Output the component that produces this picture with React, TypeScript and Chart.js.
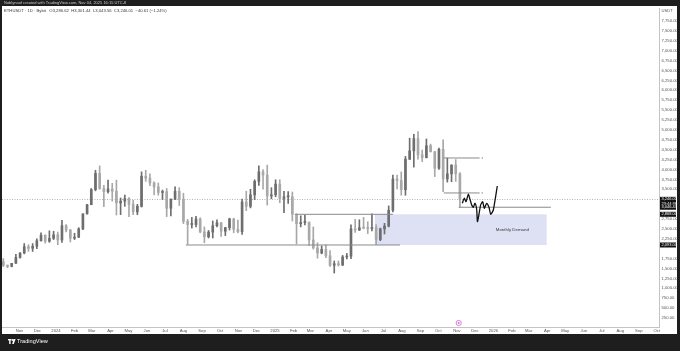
import React, { useEffect, useRef } from 'react';
import { Chart, registerables } from 'chart.js';

Chart.register(...registerables);

// ---------- data (weekly OHLC, ETH/USDT) ----------
const firstWeek = '2023-10-02';
const opens = [
  1671, 1580, 1555, 1630, 1780, 1890, 2050, 2010, 2060, 2200, 2340, 2190, 2260,
  2350, 2220, 2580, 2470, 2265, 2290, 2500, 2880, 3110, 3490, 3900, 3520, 3440,
  3505, 3450, 3155, 3200, 3265, 3115, 2930, 3070, 3830, 3780, 3660, 3560, 3420,
  3440, 3020, 3250, 3450, 3250, 2690, 2610, 2610, 2750, 2425, 2300, 2420, 2580,
  2655, 2440, 2530, 2750, 2490, 2430, 3180, 3070, 3360, 3700, 3940, 3860, 3330,
  3360, 3630, 3270, 3310, 3310, 2870, 2630, 2660, 2660, 2220, 2020, 1890, 1980,
  1820, 1580, 1620, 1590, 1790, 1810, 2500, 2470, 2530, 2520, 2510, 2530, 2230,
  2500, 2570, 2970, 3760, 3720, 3490, 4260, 4470, 4780, 4370, 4300, 4600, 4450,
  4030, 4510, 3760, 3890, 4110, 3890,
];
const highs = [
  1750, 1590, 1630, 1860, 1900, 2130, 2100, 2130, 2250, 2400, 2350, 2450, 2440,
  2420, 2715, 2610, 2490, 2390, 2530, 2880, 3120, 3520, 3980, 4090, 3600, 3730,
  3650, 3730, 3280, 3355, 3290, 3220, 3120, 3940, 3980, 3890, 3690, 3660, 3480,
  3520, 3260, 3560, 3540, 3400, 2740, 2790, 2820, 2780, 2550, 2460, 2700, 2730,
  2660, 2540, 2770, 2770, 2720, 3250, 3450, 3500, 3740, 4090, 4000, 4110, 3540,
  3740, 3740, 3450, 3440, 3430, 2880, 2830, 2850, 2680, 2550, 2150, 2070, 2100,
  1950, 1690, 1690, 1830, 1880, 2600, 2740, 2730, 2790, 2680, 2880, 2610, 2520,
  2640, 3080, 3860, 3860, 3940, 4330, 4790, 4890, 4960, 4490, 4770, 4640, 4460,
  4540, 4750, 4290, 4120, 4250, 3920,
];
const lows = [
  1550, 1520, 1540, 1630, 1760, 1870, 1930, 1930, 2000, 2190, 2140, 2160, 2230,
  2100, 2160, 2420, 2170, 2230, 2280, 2480, 2870, 3110, 3460, 3500, 3060, 3400,
  3200, 2850, 2860, 3070, 2810, 2860, 2860, 3050, 3700, 3590, 3360, 3350, 3240,
  2810, 2830, 3240, 3090, 2630, 2110, 2520, 2550, 2400, 2150, 2270, 2270, 2550,
  2310, 2330, 2470, 2400, 2400, 2360, 2960, 3030, 3240, 3600, 3500, 3100, 3260,
  3310, 3160, 2910, 3140, 2700, 2120, 2550, 2600, 2080, 1990, 1760, 1870, 1770,
  1550, 1385, 1560, 1570, 1740, 1750, 2410, 2460, 2500, 2380, 2450, 2110, 2200,
  2370, 2550, 2930, 3510, 3350, 3350, 4250, 4060, 4260, 4200, 4290, 4440, 3820,
  4000, 3440, 3680, 3690, 3700, 3050,
];
const closes = [
  1580, 1555, 1630, 1780, 1890, 2050, 2010, 2060, 2200, 2340, 2190, 2260, 2350,
  2220, 2580, 2470, 2265, 2290, 2500, 2880, 3110, 3490, 3900, 3520, 3440, 3505,
  3450, 3155, 3200, 3265, 3115, 2930, 3070, 3830, 3780, 3660, 3560, 3420, 3440,
  3020, 3250, 3450, 3250, 2690, 2610, 2610, 2750, 2425, 2300, 2420, 2580, 2655,
  2440, 2530, 2750, 2490, 2430, 3180, 3070, 3360, 3700, 3940, 3860, 3330, 3360,
  3630, 3270, 3310, 3310, 2870, 2630, 2660, 2660, 2220, 2020, 1890, 1980, 1820,
  1580, 1620, 1590, 1790, 1810, 2500, 2470, 2530, 2520, 2510, 2530, 2230, 2500,
  2570, 2970, 3760, 3720, 3490, 4260, 4470, 4780, 4370, 4300, 4600, 4450, 4030,
  4510, 3760, 3890, 4110, 3890, 3246.01,
];

// axis labels
const firstMonth = '2023-11-01';
const monthLabels = [
  'Nov', 'Dec', '2024', 'Feb', 'Mar', 'Apr', 'May', 'Jun', 'Jul', 'Aug', 'Sep', 'Oct',
  'Nov', 'Dec', '2025', 'Feb', 'Mar', 'Apr', 'May', 'Jun', 'Jul', 'Aug', 'Sep', 'Oct',
  'Nov', 'Dec', '2026', 'Feb', 'Mar', 'Apr', 'May', 'Jun', 'Jul', 'Aug', 'Sep', 'Oct',
];
const priceTicks = [
  250, 500, 750, 1000, 1250, 1500, 1750, 2250, 2500, 2750, 3500, 3750, 4000, 4250,
  4500, 4750, 5000, 5250, 5500, 5750, 6000, 6250, 6500, 6750, 7000, 7250, 7500, 7750,
];
const unitTick = 8000;
const unitLabel = 'USDT';

// drawings
const supportLevel = 2093;
const supportFrom = '2024-08-05';
const supportTo = '2025-07-29';
const demandTop = 2868;
const demandTopFrom = '2025-02-03';
const demandTopTo = '2025-07-17';
const demandBoxFrom = '2025-06-17';
const demandBoxTo = '2026-03-31';
const demandLabel = 'Monthly Demand';
const upperLevel = 4290;
const midLevel = 3407;
const levelsFrom = '2025-10-10';
const levelsTo = '2025-12-09';
const nearLevel = 3046.43;
const nearFrom = '2025-11-04';
const nearTo = '2026-04-07';
const lastPrice = 3246.01;
const lastDate = '2025-11-04';
const pathOffsets = [6.0, 9.3, 12.2, 16.0, 18.8, 21.7, 24.4, 27.2, 30.0, 31.4, 36.7, 40.0, 42.7, 46.7, 50.6, 53.4, 57.8, 64.5];
const pathPrices = [3146, 3273, 3187, 3374, 3247, 3104, 3045, 3146, 2995, 2682, 3104, 3187, 3020, 3146, 3045, 2869, 2977, 3583];

const headerText = 'Noblynoof created with TradingView.com, Nov 04, 2025 16:15 UTC-8';
const legendText = 'ETHUSDT · 1D · Bybit   O3,286.62  H3,301.44  L3,043.56  C3,246.01  −40.61 (−1.24%)';
const countdown = '23:44:36';

// ---------- helpers ----------
const DAY0 = Date.UTC(2024, 0, 1);
const dayOf = (s: string) => (Date.parse(s + 'T00:00:00Z') - DAY0) / 86400000;
const fmt = (v: number) => v.toLocaleString('en-US', { minimumFractionDigits: 2, maximumFractionDigits: 2 });
const FONT = '"Liberation Sans", Arial, sans-serif';

export default function App() {
  const ref = useRef<HTMLCanvasElement | null>(null);

  useEffect(() => {
    document.body.style.margin = '0';
    const canvas = ref.current;
    if (!canvas) return;

    const w0 = dayOf(firstWeek);
    const xs = opens.map((_, i) => w0 + 7 * i + 3);
    const colors = opens.map((o, i) => (closes[i] >= o ? '#6e6e6e' : '#a8a8a8'));

    const [fy, fm] = firstMonth.split('-').map(Number);
    const monthVals = monthLabels.map((_, i) => Math.round((Date.UTC(fy, fm - 1 + i, 1) - DAY0) / 86400000));

    const seg = (from: string, to: string, v: number, color = '#8a8a8a', width = 1) => ({
      type: 'line' as const,
      data: [{ x: dayOf(from), y: v }, { x: dayOf(to), y: v }],
      borderColor: color,
      borderWidth: width,
      pointRadius: 0,
      order: 1,
    });

    const lastDay = dayOf(lastDate);

    const framePlugin = {
      id: 'frame',
      beforeDraw(chart: any) {
        const { ctx } = chart;
        ctx.save();
        ctx.fillStyle = '#1e1e1e';
        ctx.fillRect(0, 0, 680, 351);
        ctx.fillStyle = '#ffffff';
        ctx.fillRect(2, 6, 675, 328);
        ctx.fillStyle = '#c8c8c8';
        ctx.font = `4px ${FONT}`;
        ctx.textBaseline = 'middle';
        ctx.fillText(headerText, 4, 3);
        ctx.fillStyle = '#3a3a3a';
        ctx.font = `4.2px ${FONT}`;
        ctx.fillText(legendText, 4, 11);
        // footer logo
        ctx.fillStyle = '#ffffff';
        ctx.fillRect(8, 339, 3.5, 1.4);
        ctx.fillRect(9.2, 339, 1.4, 5);
        ctx.beginPath();
        ctx.arc(12.6, 340, 0.9, 0, Math.PI * 2);
        ctx.fill();
        ctx.beginPath();
        ctx.moveTo(13.5, 339);
        ctx.lineTo(15.6, 339);
        ctx.lineTo(13.8, 344);
        ctx.lineTo(12.2, 344);
        ctx.closePath();
        ctx.fill();
        ctx.font = `5.6px ${FONT}`;
        ctx.fillText('TradingView', 17, 341.8);
        ctx.restore();
      },
      beforeDatasetsDraw(chart: any) {
        const { ctx, chartArea } = chart;
        const x = chart.scales.x;
        const y = chart.scales.y;
        ctx.save();
        // demand box
        const x1 = x.getPixelForValue(dayOf(demandBoxFrom));
        const x2 = x.getPixelForValue(dayOf(demandBoxTo));
        const y1 = y.getPixelForValue(demandTop);
        const y2 = y.getPixelForValue(supportLevel);
        ctx.fillStyle = 'rgba(200, 207, 236, 0.62)';
        ctx.fillRect(x1, y1, x2 - x1, y2 - y1);
        ctx.fillStyle = '#3c3c3c';
        ctx.font = `4.4px ${FONT}`;
        ctx.textAlign = 'center';
        ctx.textBaseline = 'middle';
        ctx.fillText(demandLabel, x1 + (x2 - x1) * 0.8, (y1 + y2) / 2);
        // last price dotted line
        const py = Math.round(y.getPixelForValue(lastPrice)) + 0.5;
        ctx.strokeStyle = '#b4b4b4';
        ctx.lineWidth = 1;
        ctx.setLineDash([1, 1.5]);
        ctx.beginPath();
        ctx.moveTo(chartArea.left, py);
        ctx.lineTo(chartArea.right, py);
        ctx.stroke();
        ctx.restore();
      },
      afterDraw(chart: any) {
        const { ctx, chartArea } = chart;
        const x = chart.scales.x;
        const y = chart.scales.y;
        ctx.save();
        // small marks at end of level lines
        ctx.fillStyle = '#8a8a8a';
        const ex = x.getPixelForValue(dayOf(levelsTo)) + 2;
        [upperLevel, midLevel].forEach((v) => {
          ctx.fillRect(ex, y.getPixelForValue(v) - 0.6, 1.2, 1.2);
        });
        // axis badges
        const bx = chartArea.right + 1;
        const bw = 16;
        const badge = (v: number, lines: string[]) => {
          const cy = y.getPixelForValue(v);
          const h = 4.4 * lines.length + 0.6;
          ctx.fillStyle = '#131313';
          ctx.fillRect(bx, cy - 2.5, bw, h);
          ctx.fillStyle = '#ffffff';
          ctx.font = `4px ${FONT}`;
          ctx.textAlign = 'left';
          ctx.textBaseline = 'middle';
          lines.forEach((t, i) => ctx.fillText(t, bx + 1.5, cy + i * 4.4));
        };
        badge(lastPrice, [fmt(lastPrice), countdown]);
        badge(nearLevel, [fmt(nearLevel)]);
        badge(demandTop, [fmt(demandTop)]);
        badge(supportLevel, [fmt(supportLevel)]);
        // event marker
        const mx = x.getPixelForValue(lastDay);
        const my = chartArea.bottom - 4;
        ctx.strokeStyle = '#d15fd1';
        ctx.lineWidth = 0.8;
        ctx.beginPath();
        ctx.arc(mx, my, 2.6, 0, Math.PI * 2);
        ctx.stroke();
        ctx.fillStyle = '#d15fd1';
        ctx.beginPath();
        ctx.arc(mx, my, 0.9, 0, Math.PI * 2);
        ctx.fill();
        ctx.restore();
      },
    };

    const chart = new Chart(canvas, {
      type: 'bar',
      data: {
        datasets: [
          {
            type: 'bar',
            data: xs.map((x, i) => ({ x, y: [lows[i], highs[i]] })) as any,
            backgroundColor: colors,
            barThickness: 1,
            grouped: false,
            borderWidth: 0,
            order: 3,
          } as any,
          {
            type: 'bar',
            data: xs.map((x, i) => ({ x, y: [opens[i], closes[i]] })) as any,
            backgroundColor: colors,
            barThickness: 2,
            minBarLength: 1,
            grouped: false,
            borderWidth: 0,
            order: 2,
          } as any,
          seg(supportFrom, supportTo, supportLevel),
          seg(demandTopFrom, demandTopTo, demandTop),
          seg(levelsFrom, levelsTo, upperLevel),
          seg(levelsFrom, levelsTo, midLevel),
          seg(nearFrom, nearTo, nearLevel),
          {
            type: 'line',
            data: pathOffsets.map((d, i) => ({ x: lastDay + d, y: pathPrices[i] })),
            borderColor: '#111111',
            borderWidth: 1.3,
            pointRadius: 0,
            tension: 0.2,
            order: 0,
          } as any,
        ],
      },
      options: {
        responsive: false,
        animation: false,
        events: [],
        layout: { padding: { left: 2, right: 3, top: 8, bottom: 17 } },
        plugins: { legend: { display: false }, tooltip: { enabled: false } },
        scales: {
          x: {
            type: 'linear',
            min: -90.2,
            max: 1007.7,
            offset: false,
            grid: { display: false, drawTicks: false, tickLength: 0 },
            border: { display: true, color: '#c4c4c4' },
            afterBuildTicks: (s: any) => {
              s.ticks = monthVals.map((v) => ({ value: v }));
            },
            afterFit: (s: any) => {
              s.height = 7;
            },
            ticks: {
              display: true,
              autoSkip: false,
              maxRotation: 0,
              minRotation: 0,
              padding: 1.2,
              color: '#555555',
              font: { size: 4.2, family: FONT },
              callback: (_v: any, i: number) => monthLabels[i] ?? '',
            },
          },
          y: {
            type: 'linear',
            position: 'right',
            min: 22,
            max: 8078,
            grid: { display: false, drawTicks: false, tickLength: 0 },
            border: { display: true, color: '#c4c4c4' },
            afterBuildTicks: (s: any) => {
              s.ticks = [...priceTicks, unitTick].map((v) => ({ value: v }));
            },
            afterFit: (s: any) => {
              s.width = 18;
            },
            ticks: {
              padding: 2.5,
              color: '#555555',
              font: { size: 4.2, family: FONT },
              callback: (v: any) => (v === unitTick ? unitLabel : fmt(Number(v))),
            },
          },
        },
      },
      plugins: [framePlugin],
    } as any);

    return () => chart.destroy();
  }, []);

  return (
    <div style={{ position: 'fixed', left: 0, top: 0, width: 680, height: 351 }}>
      <canvas ref={ref} width={680} height={351} style={{ display: 'block', width: 680, height: 351 }} />
    </div>
  );
}
